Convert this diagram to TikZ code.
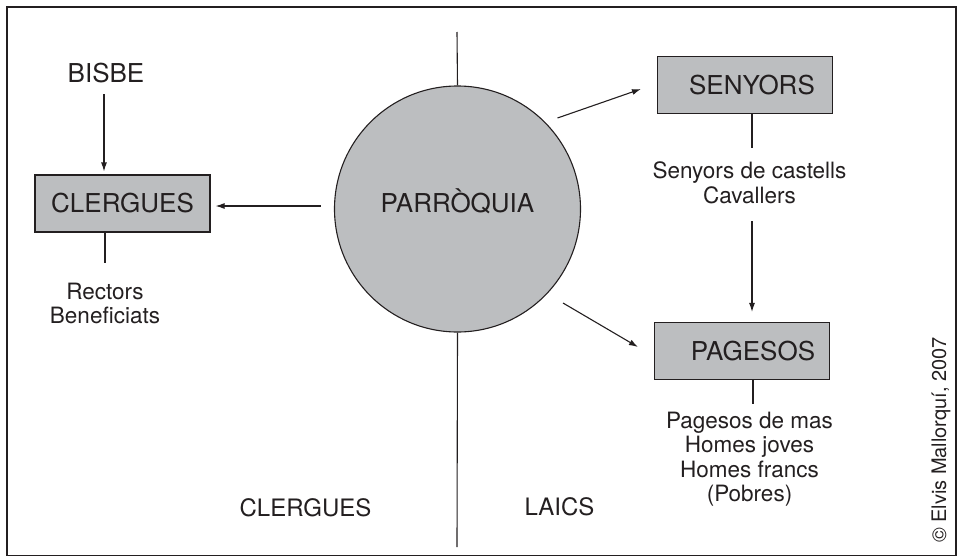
\documentclass[tikz,border=0pt]{standalone}
\usepackage{fontspec}
\setmainfont{TeX Gyre Heros}
\usetikzlibrary{arrows.meta}
\definecolor{tinta}{RGB}{35,31,32}
\definecolor{fons}{RGB}{188,190,192}
\tikzset{
  gran/.style={font=\fontsize{26}{30}\selectfont},
  mitja/.style={font=\fontsize{24}{28}\selectfont},
  petit/.style={font=\fontsize{22.5}{24.5}\selectfont,align=center},
  caixa/.style={gran,draw=tinta,fill=fons,minimum width=175pt,minimum height=57pt,
    inner sep=0pt,text height=18.5pt,text depth=0pt},
  fletxa/.style={-{Latex[length=9pt,width=6pt]}},
}

\begin{document}
\begin{tikzpicture}[x=1pt,y=-1pt,line width=1.1pt,tinta]
    \useasboundingbox (0,0) rectangle (959,557);
    \draw[line width=1.5pt] (7,7) rectangle (956,555.5);
    \node[circle,draw,fill=fons,minimum size=246pt,inner sep=0pt,gran,
      text height=16pt,text depth=10pt] (parroquia) at (457.5,209) {PARRÒQUIA};
    \coordinate (dalt) at (457,32);
    \coordinate (baix) at (457,547);
    \draw (dalt) -- (parroquia.north);
    \draw (parroquia.south) -- (baix);
    \node[caixa] (clergues) at (122.5,203.5) {CLERGUES};
    \node[caixa] (senyors) at (745,85) {\hspace*{14pt}SENYORS};
    \node[caixa] (pagesos) at (742,351) {\hspace*{22pt}PAGESOS};
    \node[gran,anchor=base] (bisbe) at (106,82) {BISBE};
    \draw[fletxa,shorten <=8pt,shorten >=3pt] ([xshift=-2pt]bisbe.south) -- ([xshift=-2pt]bisbe.south |- clergues.north);
    \draw[fletxa,shorten <=13pt,shorten >=5pt] ([yshift=3pt]parroquia.west) -- ([yshift=3pt]parroquia.west -| clergues.east);
    \node[petit,anchor=north] (rectors) at (105,279) {Rectors\\Beneficiats};
    \draw[shorten >=16pt] (rectors.north |- clergues.south) -- (rectors.north);
    \draw[fletxa] ([xshift=100pt,yshift=91pt]parroquia.center) -- ([xshift=-16pt,yshift=-4pt]senyors.west);
    \draw[fletxa] ([xshift=105.5pt,yshift=-94pt]parroquia.center) -- ([xshift=-16pt,yshift=4pt]pagesos.west);
    \node[petit,anchor=north] (llistasenyors) at (749.5,158) {Senyors de castells\\Cavallers};
    \draw[shorten >=10pt] ([xshift=7pt]senyors.south) -- ([xshift=7pt]senyors.south |- llistasenyors.north);
    \draw[fletxa,shorten <=14pt,shorten >=10pt] ([xshift=2.5pt]llistasenyors.south) -- ([xshift=2.5pt]llistasenyors.south |- pagesos.north);
    \node[petit,anchor=north] (llistapagesos) at (749.5,408) {Pagesos de mas\\Homes joves\\Homes francs\\(Pobres)};
    \draw[shorten >=4pt] ([xshift=11pt]pagesos.south) -- ([xshift=11pt]pagesos.south |- llistapagesos.north);
    \node[mitja,anchor=base] (clerguesbaix) at (305.5,516) {CLERGUES};
    \node[mitja,anchor=base] (laics) at (559.5,515) {LAICS};
    \node[font=\fontsize{20}{24}\selectfont,rotate=90,anchor=base] (autor) at (946,440) {© Elvis Mallorquí, 2007};
\end{tikzpicture}
\end{document}
